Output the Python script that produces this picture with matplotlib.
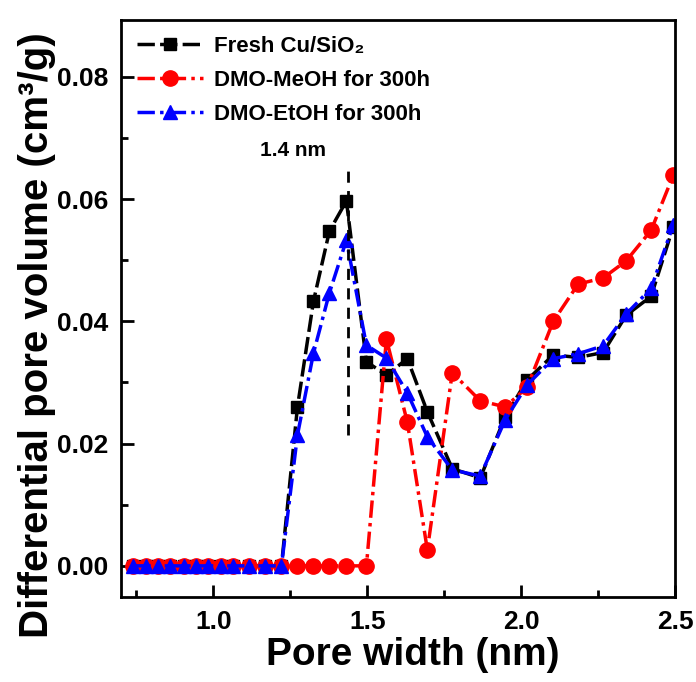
import matplotlib
matplotlib.use("Agg")
import matplotlib.pyplot as plt
from matplotlib.ticker import MultipleLocator

plt.rcParams['font.family'] = ['Liberation Sans', 'DejaVu Sans']
plt.rcParams['font.weight'] = 'bold'

# pore width grid (nm), shared by all three samples
pore_width = [0.740, 0.782, 0.821, 0.860, 0.903, 0.942, 0.981, 1.023, 1.062, 1.114,
              1.166, 1.221, 1.273, 1.325, 1.377, 1.432, 1.497, 1.562, 1.630, 1.695,
              1.776, 1.867, 1.948, 2.019, 2.104, 2.185, 2.266, 2.341, 2.422, 2.494]

fresh = [0, 0, 0, 0, 0, 0, 0, 0, 0, 0,
         0, 0, 0.0260, 0.0433, 0.0548, 0.0597, 0.0334, 0.0312, 0.0339, 0.0252,
         0.0159, 0.0144, 0.0244, 0.0304, 0.0345, 0.0341, 0.0349, 0.0410, 0.0441, 0.0555]

meoh = [0, 0, 0, 0, 0, 0, 0, 0, 0, 0,
        0, 0, 0, 0, 0, 0, 0, 0.0371, 0.0235, 0.0026,
        0.0316, 0.0270, 0.0260, 0.0292, 0.0400, 0.0461, 0.0471, 0.0499, 0.0549, 0.0639]

etoh = [0, 0, 0, 0, 0, 0, 0, 0, 0, 0,
        0, 0, 0.0214, 0.0348, 0.0447, 0.0533, 0.0361, 0.0340, 0.0283, 0.0211,
        0.0157, 0.0147, 0.0239, 0.0296, 0.0339, 0.0347, 0.0360, 0.0412, 0.0454, 0.0558]

fig = plt.figure(figsize=(6.96, 6.82), dpi=100)
ax = fig.add_axes([0.174, 0.1246, 0.796, 0.846])

ax.plot(pore_width, fresh, color='black', lw=2.5, ls=(0, (5, 1.5)), marker='s', ms=9,
        label='Fresh Cu/SiO₂')
ax.plot(pore_width, meoh, color='#ff0000', lw=2.5, ls=(0, (5, 1.5, 1, 1.5)), marker='o', ms=11,
        label='DMO-MeOH for 300h')
ax.plot(pore_width, etoh, color='#0000ff', lw=2.5, ls=(0, (5, 1.5, 1, 1.5)), marker='^', ms=10,
        label='DMO-EtOH for 300h')

# dashed marker line at 1.4 nm
ax.plot([1.437, 1.437], [0.0214, 0.0659], color='black', lw=2, ls=(0, (4, 3)))
ax.text(1.26, 0.068, '1.4 nm', ha='center', va='center', fontsize=15, fontweight='bold')

ax.set_xlim(0.70, 2.50)
ax.set_ylim(-0.0051, 0.0893)
ax.xaxis.set_major_locator(MultipleLocator(0.5))
ax.xaxis.set_minor_locator(MultipleLocator(0.25))
ax.yaxis.set_major_locator(MultipleLocator(0.02))
ax.yaxis.set_minor_locator(MultipleLocator(0.01))
ax.xaxis.set_major_formatter(plt.FuncFormatter(lambda v, p: f'{v:.1f}'))
ax.yaxis.set_major_formatter(plt.FuncFormatter(lambda v, p: f'{v:.2f}'))
ax.tick_params(which='major', direction='in', length=9, width=2, labelsize=19, pad=9)
ax.tick_params(which='minor', direction='in', length=5, width=2)
for lab in ax.get_xticklabels() + ax.get_yticklabels():
    lab.set_fontweight('bold')
for sp in ax.spines.values():
    sp.set_linewidth(2)

ax.set_xlabel('Pore width (nm)', fontsize=28, fontweight='bold')
ax.set_ylabel('Differential pore volume (cm³/g)', fontsize=29, fontweight='bold')
ax.xaxis.set_label_coords(0.527, -0.069)
ax.yaxis.set_label_coords(-0.117, 0.454)

leg = ax.legend(loc='upper left', frameon=False, handlelength=3,
                borderaxespad=0.3, labelspacing=0.6, handletextpad=0.5,
                prop={'weight': 'bold', 'size': 16})

fig.savefig('out.png', dpi=100)
